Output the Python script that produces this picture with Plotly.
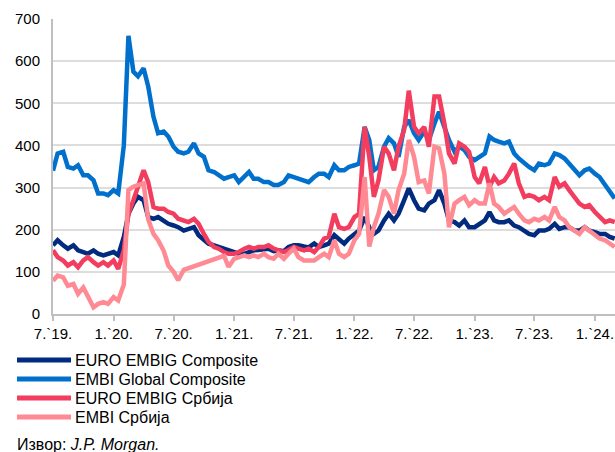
import pandas as pd
import plotly.graph_objects as go

# semi-monthly observation dates (1st and 15th), Jul 2019 - Mar 2024
dates = pd.date_range("2019-07-01", "2024-03-01", freq="SMS")

euro_embig_composite = [
    163, 175, 163, 155, 163, 151, 147, 143, 151, 143, 139, 143,
    147, 139, 183, 238, 262, 278, 270, 230, 226, 230, 222, 214, 210, 206, 198, 202, 206, 187, 175, 167, 163, 159, 155, 151,
    147, 143, 143, 147, 151, 152, 155, 155, 149, 151, 149, 159, 163, 163, 160, 158, 167, 159, 163, 167, 187, 179, 167, 179,
    190, 198, 230, 206, 190, 198, 222, 238, 222, 238, 270, 298, 270, 250, 246, 262, 270, 294, 262, 222, 218, 210, 222, 206,
    206, 214, 222, 242, 222, 218, 218, 222, 210, 206, 198, 190, 187, 198, 198, 202, 214, 202, 206, 206, 198, 198, 206, 198,
    194, 190, 190, 183, 179,
]

embi_global_composite = [
    340, 381, 385, 349, 345, 353, 329, 329, 317, 286, 286, 282,
    294, 286, 400, 660, 575, 564, 583, 540, 468, 429, 433, 421, 397, 385, 381, 385, 405, 381, 373, 341, 337, 329, 321, 325,
    329, 313, 325, 337, 321, 321, 313, 313, 306, 306, 313, 329, 325, 321, 317, 313, 325, 333, 333, 325, 353, 341, 341, 349,
    353, 357, 444, 413, 341, 349, 397, 417, 405, 373, 444, 460, 429, 413, 433, 413, 452, 480, 444, 413, 385, 397, 389, 373,
    365, 373, 381, 421, 413, 409, 405, 409, 381, 369, 357, 349, 341, 357, 353, 357, 381, 377, 369, 357, 341, 329, 341, 345,
    333, 325, 306, 290, 274,
]

euro_embig_srbija = [
    151, 135, 127, 115, 123, 111, 127, 135, 123, 115, 123, 115,
    127, 107, 151, 238, 270, 302, 341, 313, 254, 250, 250, 242, 238, 226, 222, 218, 226, 214, 190, 171, 159, 155, 147, 143,
    143, 147, 155, 159, 155, 159, 159, 163, 155, 151, 147, 152, 159, 155, 151, 155, 147, 159, 179, 183, 238, 206, 202, 206,
    230, 238, 444, 373, 278, 317, 397, 381, 341, 397, 437, 530, 444, 429, 444, 397, 516, 516, 452, 381, 357, 405, 397, 385,
    325, 310, 349, 302, 325, 310, 317, 333, 357, 310, 278, 282, 278, 270, 278, 270, 325, 302, 310, 294, 278, 262, 254, 258,
    242, 230, 218, 222, 218,
]

embi_srbija = [
    79, 91, 87, 67, 71, 48, 63, 44, 16, 24, 28, 24,
    40, 32, 70, 294, 302, 306, 310, 225, 190, 175, 150, 115, 100, 80, 105, None, None, None, None, None, None, None, 138, 112,
    131, 135, 139, 135, 139, 135, 143, 135, 131, 143, 131, 143, 155, 135, 127, 127, 127, 135, 143, 135, 175, 143, 135, 143,
    175, 190, 325, 160, 206, 238, 294, 278, 238, 294, 333, 413, 373, 313, 317, 286, 397, 393, 333, 206, 262, 270, 278, 258,
    270, 262, 262, 310, 262, 254, 238, 246, 254, 238, 222, 218, 226, 222, 230, 222, 254, 230, 222, 206, 198, 190, 206, 198,
    187, 179, 175, 167, 159,
]

series_names = ["EURO EMBIG Composite", "EMBI Global Composite", "EURO EMBIG Србија", "EMBI Србија"]
series_values = [euro_embig_composite, embi_global_composite, euro_embig_srbija, embi_srbija]
colors = ["#002B7F", "#0070CC", "#F23D5E", "#FF8A93"]

tick_dates = ["2019-07-01", "2020-01-01", "2020-07-01", "2021-01-01", "2021-07-01",
              "2022-01-01", "2022-07-01", "2023-01-01", "2023-07-01", "2024-01-01"]
tick_labels = ["7.`19.", "1.`20.", "7.`20.", "1.`21.", "7.`21.",
               "1.`22.", "7.`22.", "1.`23.", "7.`23.", "1.`24."]

FONT = "Liberation Sans, Arial, sans-serif"

fig = go.Figure()
for name, vals, col in zip(series_names, series_values, colors):
    fig.add_trace(go.Scatter(x=dates, y=vals, mode="lines", name=name,
                             line=dict(color=col, width=4.5), connectgaps=True,
                             showlegend=False))

W, H = 615, 452
L, R, T, B = 53, 0, 19, 138
pw, ph = W - L - R, H - T - B

def px_x(x):
    return (x - L) / pw

def px_y(y):
    return (H - B - y) / ph

legend_rows = [360, 379, 398, 417]
for name, col, yy in zip(series_names, colors, legend_rows):
    fig.add_shape(type="line", xref="paper", yref="paper",
                  x0=px_x(17), x1=px_x(71), y0=px_y(yy), y1=px_y(yy),
                  line=dict(color=col, width=5))
    fig.add_annotation(xref="paper", yref="paper", x=px_x(73), y=px_y(yy),
                       xanchor="left", yanchor="middle", showarrow=False,
                       text=name, font=dict(size=16, color="#000000", family=FONT))

fig.add_annotation(xref="paper", yref="paper", x=px_x(15), y=px_y(444),
                   xanchor="left", yanchor="middle", showarrow=False,
                   text="Извор: <i>J.P. Morgan.</i>",
                   font=dict(size=16, color="#000000", family=FONT))

fig.update_layout(
    width=W, height=H,
    margin=dict(l=L, r=R, t=T, b=B),
    paper_bgcolor="white", plot_bgcolor="white",
    font=dict(family=FONT, size=15, color="#000000"),
    xaxis=dict(
        type="date", range=["2019-07-01", "2024-03-02"],
        tickvals=tick_dates, ticktext=tick_labels,
        showgrid=False, showline=True, linecolor="#BFBFBF", linewidth=2,
        ticks="outside", ticklen=5, tickcolor="#BFBFBF", tickwidth=2,
        tickfont=dict(size=15, color="#000000"),
    ),
    yaxis=dict(
        range=[0, 700], tickvals=[0, 100, 200, 300, 400, 500, 600, 700],
        showgrid=True, gridcolor="#DDDDDD", gridwidth=2,
        showline=True, linecolor="#BFBFBF", linewidth=2,
        zeroline=False, ticks="", ticklabelstandoff=8,
        tickfont=dict(size=15, color="#000000"),
    ),
)

# remove the browser's default body margin so the figure fills the window exactly
fig.write_html("out.html", config={"displayModeBar": False},
               post_script="document.body.style.margin='0';document.body.style.overflow='hidden';")
